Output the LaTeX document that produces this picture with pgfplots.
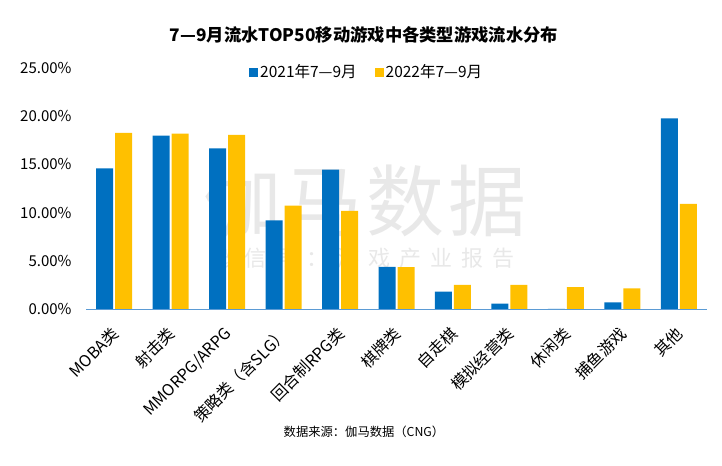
\documentclass[border=0pt]{standalone}
\usepackage{fontspec}
\setmainfont{Noto Sans CJK SC}
\usepackage{pgfplots}
\pgfplotsset{compat=1.18}
\definecolor{cblue}{HTML}{0070C0}
\definecolor{cyell}{HTML}{FFC000}
\definecolor{caxis}{HTML}{5B9BD5}
\definecolor{wm}{HTML}{E8E8E8}
\begin{document}
\begin{tikzpicture}
\path[use as bounding box] (0,0) rectangle (722bp,466bp);
% watermark
\node[text=wm, inner sep=0, font=\fontsize{78bp}{80bp}\selectfont] at (365bp,265bp) {伽\hspace{4bp}马\hspace{4bp}数\hspace{4bp}据};
\node[text=wm, inner sep=0, font=\fontsize{22bp}{24bp}\selectfont] at (364bp,208bp) {微\hspace{9bp}信\hspace{9bp}号\hspace{9bp}：\hspace{9bp}游\hspace{9bp}戏\hspace{9bp}产\hspace{9bp}业\hspace{9bp}报\hspace{9bp}告};
% title
\node[font=\fontsize{17.3bp}{19bp}\selectfont\bfseries] at (364bp,431bp) {7—9月流水TOP50移动游戏中各类型游戏流水分布};
% source
\node[font=\fontsize{12.3bp}{14bp}\selectfont] at (364bp,34bp) {数据来源：伽马数据（CNG）};
\begin{axis}[
  at={(86bp,157bp)}, anchor=south west,
  scale only axis, width=621bp, height=241bp,
  xmin=-0.5, xmax=10.5, ymin=0, ymax=25,
  ybar, bar width=17bp,
  axis lines=left,
  axis line style={-},
  x axis line style={draw=caxis, line width=1pt},
  y axis line style={draw=none},
  major tick length=0pt,
  ytick={0,5,10,15,20,25},
  xtick={0,...,10},
  xticklabels={MOBA类,射击类,MMORPG/ARPG,策略类（含SLG）,回合制RPG类,棋牌类,自走棋,模拟经营类,休闲类,捕鱼游戏,其他},
  xticklabel style={xshift=-4bp, yshift=-15bp, rotate=45, anchor=north east, inner sep=1pt, font=\fontsize{16bp}{18bp}\selectfont},
  yticklabel={\pgfmathprintnumber[fixed,fixed zerofill,precision=2]{\tick}\%},
  yticklabel style={anchor=east, xshift=-11bp, font=\fontsize{15bp}{17bp}\selectfont},
  /pgf/number format/assume math mode=true,
  legend columns=2,
  legend style={at={(0.452,0.983)}, anchor=center, draw=none, fill=none,
    font=\fontsize{15.5bp}{17bp}\selectfont,
    /tikz/every even column/.append style={column sep=16bp},
    /tikz/every odd column/.append style={column sep=0bp}},
  legend image code/.code={\fill[#1] (0bp,-5bp) rectangle (9bp,4bp);},
]
\addplot[fill=cblue, draw=none, bar shift=-9.5bp] coordinates {
(0,14.6) (1,17.98) (2,16.67) (3,9.2) (4,14.45) (5,4.36) (6,1.8) (7,0.56) (8,0) (9,0.69) (10,19.78)};
\addplot[fill=cyell, draw=none, bar shift=9.5bp] coordinates {
(0,18.26) (1,18.2) (2,18.05) (3,10.72) (4,10.17) (5,4.35) (6,2.5) (7,2.49) (8,2.28) (9,2.14) (10,10.9)};
\legend{2021年7—9月,2022年7—9月}
\end{axis}
\end{tikzpicture}
\end{document}
